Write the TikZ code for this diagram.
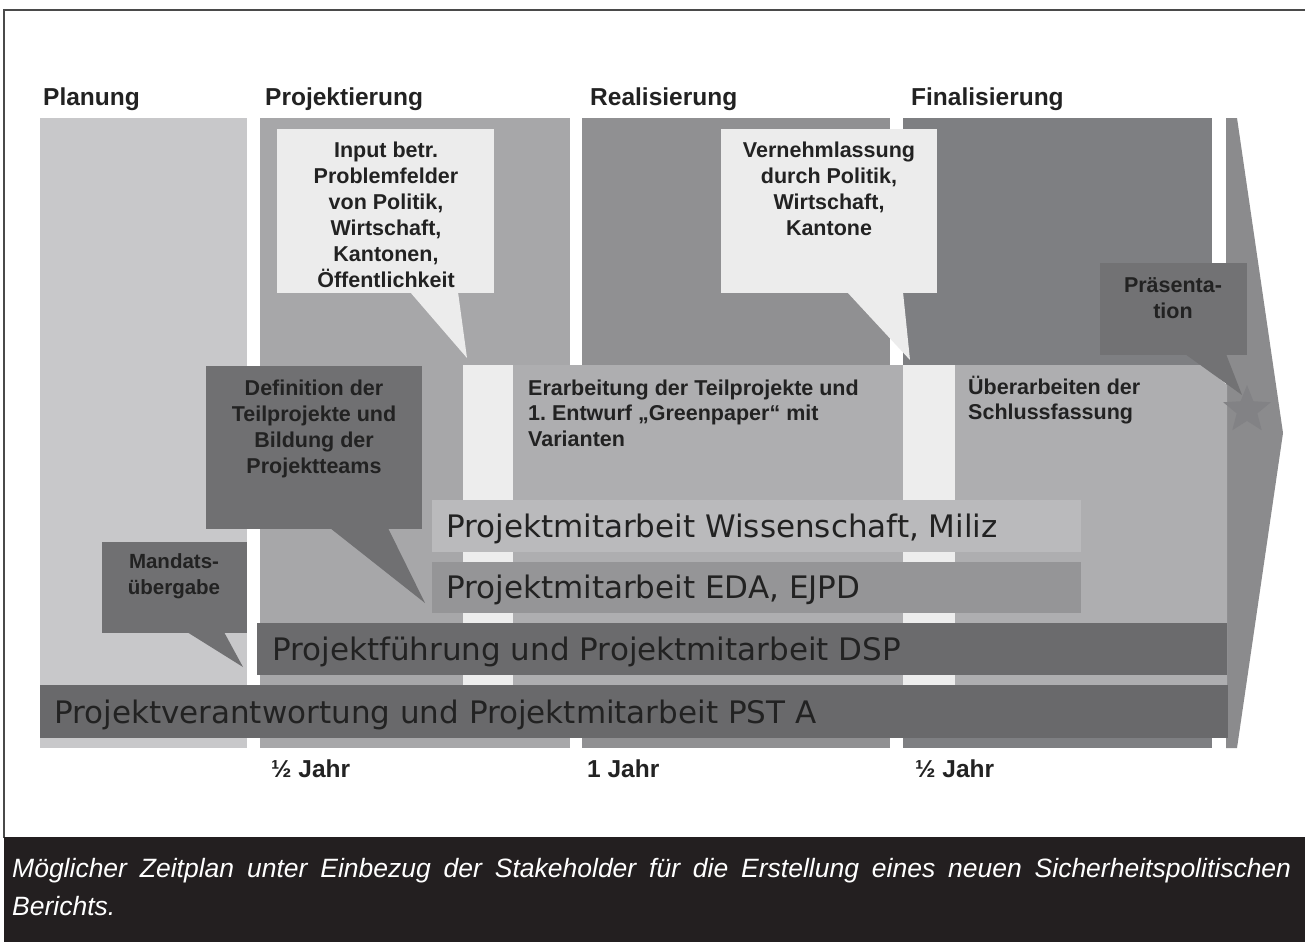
\documentclass[tikz,border=0pt]{standalone}
\usepackage{fontspec}
\setmainfont{Liberation Sans}
\newfontfamily\dejavu{DejaVu Sans}
\usetikzlibrary{shapes.geometric}
\frenchspacing
\definecolor{colPlan}{HTML}{C8C8CA}
\definecolor{colProj}{HTML}{A7A7A9}
\definecolor{colReal}{HTML}{909092}
\definecolor{colFin}{HTML}{7E7F82}
\definecolor{colArrow}{HTML}{8B8B8D}
\definecolor{colBand}{HTML}{AEAEB0}
\definecolor{colCallLight}{HTML}{ECECEC}
\definecolor{colCallDark}{HTML}{707072}
\definecolor{colWiss}{HTML}{BABABC}
\definecolor{colEDA}{HTML}{959597}
\definecolor{colDSP}{HTML}{6B6B6D}
\definecolor{colPST}{HTML}{69696B}
\definecolor{colText}{HTML}{222222}
\definecolor{colCap}{HTML}{231F20}
\definecolor{colStar}{HTML}{828285}
\definecolor{colFrame}{HTML}{4A4A4A}
\begin{document}
\begin{tikzpicture}[x=1pt,y=-1pt,
  head/.style={anchor=base west, inner sep=0pt, text=colText, font=\fontsize{24.5}{29}\selectfont\bfseries},
  calltxt/.style={anchor=base, inner sep=0pt, text=colText, font=\fontsize{21.5}{26}\selectfont\bfseries},
  smallcall/.style={anchor=base, inner sep=0pt, text=colText, font=\fontsize{20.5}{25}\selectfont\bfseries},
  bandtxt/.style={anchor=base west, inner sep=0pt, text=colText, font=\fontsize{21.5}{26}\selectfont\bfseries},
  bartxt/.style={anchor=base west, inner sep=0pt, text=colText, font=\dejavu\fontsize{31}{36}\selectfont},
  timetxt/.style={anchor=base west, inner sep=0pt, text=colText, font=\fontsize{24.5}{29}\selectfont\bfseries},
  captxt/.style={anchor=base west, inner sep=0pt, text=white, font=\fontsize{26.5}{31}\selectfont\itshape}]
\useasboundingbox (0,0) rectangle (1305,942);
\fill[white] (0,0) rectangle (1305,942);
% frame and caption box
\draw[colFrame, line width=1.5pt] (4,838) -- (4,10) -- (1305,10);
\fill[colCap] (4,837) rectangle (1305,942);
% phase columns
\fill[colPlan] (40,118) rectangle (247,748);
\fill[colProj] (260,118) rectangle (570,748);
\fill[colReal] (582,118) rectangle (890,748);
\fill[colFin] (903,118) rectangle (1212,748);
\fill[colArrow] (1226,118) -- (1237,118) -- (1283,433) -- (1237,748) -- (1226,748) -- cycle;
% work band
\fill[colBand] (463,365) -- (1203,365) -- (1227,385) -- (1227,685) -- (463,685) -- cycle;
\fill[white!93!black] (463,365) rectangle (513,685);
\fill[white!93!black] (903,365) rectangle (955,685);
% light callouts
\fill[colCallLight] (277,129) rectangle (494,293);
\fill[colCallLight] (410,292) -- (458,292) -- (467,358) -- cycle;
\fill[colCallLight] (721,129) rectangle (937,293);
\fill[colCallLight] (847,292) -- (903,292) -- (910,360) -- cycle;
% dark callouts
\fill[colCallDark] (206,366) rectangle (422,529);
\fill[colCallDark] (330,528) -- (388,528) -- (425,603) -- cycle;
\fill[colCallDark] (102,542) rectangle (247,633);
\fill[colCallDark] (187,632) -- (224,632) -- (243,667) -- cycle;
% bars
\fill[colWiss] (432,500) rectangle (1081,552);
\fill[colEDA] (432,562) rectangle (1081,613);
\fill[colDSP] (257,623) rectangle (1227,675);
\fill[colPST] (40,685) rectangle (1228,738);
% Praesentation callout and star
\node[star, star points=5, star point ratio=2.3, minimum size=50pt, inner sep=0pt, fill=colStar] (star) at (1247,410) {};
\fill[colDSP!95!white] (1100,263) rectangle (1247,355);
\fill[colDSP!95!white] (1185,354) -- (1226,354) -- (1242,395) -- cycle;
% headers
\node[head] (hPlan) at (43,105) {Planung};
\node[head] (hProj) at (265,105) {Projektierung};
\node[head] (hReal) at (590,105) {Realisierung};
\node[head] (hFin) at (911,105) {Finalisierung};
% Input callout text
\node[calltxt] (in1) at (386,157) {Input betr.};
\node[calltxt] (in2) at (386,183) {Problemfelder};
\node[calltxt] (in3) at (386,209) {von Politik,};
\node[calltxt] (in4) at (386,235) {Wirtschaft,};
\node[calltxt] (in5) at (386,261) {Kantonen,};
\node[calltxt] (in6) at (386,287) {Öffentlichkeit};
% Vernehmlassung callout text
\node[calltxt] (ve1) at (829,157) {Vernehmlassung};
\node[calltxt] (ve2) at (829,183) {durch Politik,};
\node[calltxt] (ve3) at (829,209) {Wirtschaft,};
\node[calltxt] (ve4) at (829,235) {Kantone};
% Definition callout text
\node[calltxt] (de1) at (314,395) {Definition der};
\node[calltxt] (de2) at (314,421) {Teilprojekte und};
\node[calltxt] (de3) at (314,447) {Bildung der};
\node[calltxt] (de4) at (314,473) {Projektteams};
% Mandats callout text
\node[smallcall] (ma1) at (174,568) {Mandats-};
\node[smallcall] (ma2) at (174,594) {übergabe};
% Praesentation text
\node[calltxt] (pr1) at (1173,292) {Präsenta-};
\node[calltxt] (pr2) at (1173,318) {tion};
% band texts
\node[bandtxt] (er1) at (528,395) {Erarbeitung der Teilprojekte und};
\node[bandtxt] (er2) at (528,420) {1. Entwurf „Greenpaper“ mit};
\node[bandtxt] (er3) at (528,446) {Varianten};
\node[bandtxt] (ub1) at (968,394) {Überarbeiten der};
\node[bandtxt] (ub2) at (968,419) {Schlussfassung};
% bar texts
\node[bartxt] (tWiss) at (446,537) {Projektmitarbeit Wissenschaft, Miliz};
\node[bartxt] (tEDA) at (446,598) {Projektmitarbeit EDA, EJPD};
\node[bartxt] (tDSP) at (272,660) {Projektführung und Projektmitarbeit DSP};
\node[bartxt] (tPST) at (54,723) {Projektverantwortung und Projektmitarbeit PST A};
% time labels
\node[timetxt] (t1) at (271,777) {½ Jahr};
\node[timetxt] (t2) at (587,777) {1 Jahr};
\node[timetxt] (t3) at (915,777) {½ Jahr};
% caption
\node[captxt] (cap1) at (12,877) {\makebox[1279pt][s]{Möglicher Zeitplan unter Einbezug der Stakeholder für die Erstellung eines neuen Sicherheitspolitischen}};
\node[captxt] (cap2) at (12,915) {Berichts.};
\end{tikzpicture}
\end{document}
